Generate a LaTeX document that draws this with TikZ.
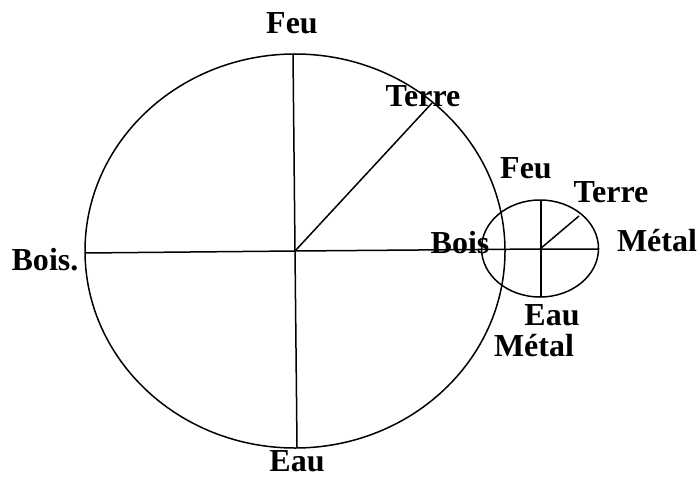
\documentclass[tikz,border=0pt]{standalone}
\usepackage{fontspec}
\setmainfont{Liberation Serif}
\usetikzlibrary{positioning}

\begin{document}
\begin{tikzpicture}[
  x=0.5pt, y=-0.5pt,
  font=\fontsize{16}{19}\selectfont\bfseries,
  ring/.style={line width=0.75pt},
  spoke/.style={line width=0.75pt},
  lbl/.style={inner sep=0pt},
]
\useasboundingbox (0,0) rectangle (699,476);

%% ---------- big wheel ----------
\coordinate (O) at (295,251);
\coordinate (bigN) at (293,54);
\coordinate (bigS) at (297,447);
\coordinate (bigW) at (85,253);
\coordinate (bigNE) at (432,103);
\draw[ring] (O) ellipse [x radius=210, y radius=197];

%% ---------- small wheel ----------
\coordinate (o) at (540,249);
\coordinate (smN) at (541,200);
\coordinate (smS) at (541,297);
\coordinate (smE) at (599,249);
\coordinate (smNE) at (579,216);
\draw[ring] (540,248.5) ellipse [x radius=58.5, y radius=48.5];

%% ---------- spokes ----------
\draw[spoke] (bigN) -- (bigS);
\draw[spoke] (bigW) -- (O) -- (o) -- (smE);
\draw[spoke] (O) -- (bigNE);
\draw[spoke] (smN) -- (smS);
\draw[spoke] (o) -- (smNE);

%% ---------- labels ----------
\node[lbl] (feuB) at (292,23) {Feu};
\node[lbl] (terreB) at (423,96) {Terre};
\node[lbl] (boisB) at (45,260) {Bois.};
\node[lbl] (eauB) at (297,461) {Eau};
\node[lbl] (metalB) at (534,346) {Métal};

\node[lbl] (feuS) at (526,168) {Feu};
\node[lbl] (terreS) at (611,192) {Terre};
\node[lbl] (boisS) at (460,243) {Bois};
\node[lbl] (metalS) at (657,241) {Métal};
\node[lbl] (eauS) at (552,315) {Eau};

\end{tikzpicture}
\end{document}
